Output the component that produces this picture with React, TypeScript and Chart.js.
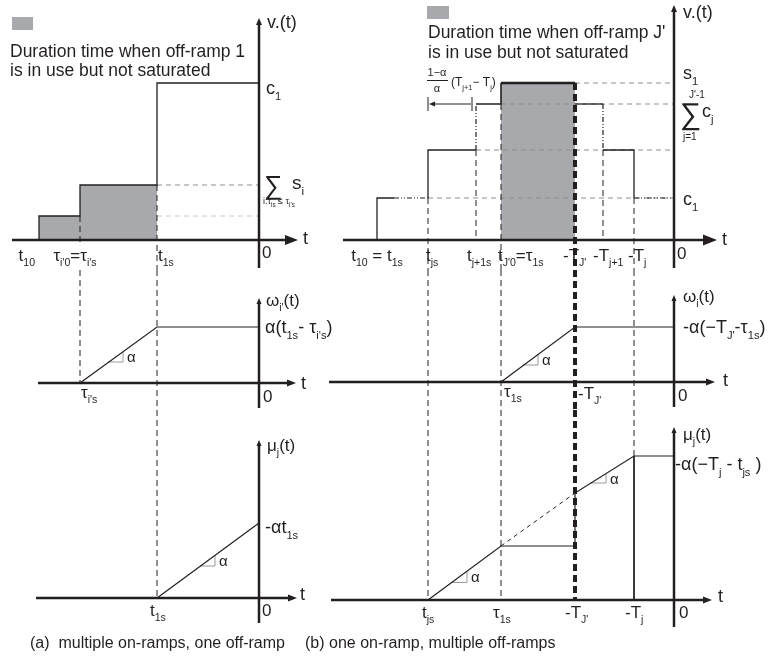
import React, { useEffect, useRef } from 'react';
import { Chart, registerables } from 'chart.js';
Chart.register(...registerables);

// ---------- values (time runs left to right, 0 at the origin) ----------
// (a) multiple on-ramps, one off-ramp
const A_TIMES = [-22.0, -17.9, -10.2]; // t10, τi's (= τi'0), t1s
const A_TOP_TICKS = ['t_{10}', "τ_{i'0}=τ_{i's}", 't_{1s}'];
const A_V_LEVELS = [2.4, 5.5, 15.7]; // first on-ramp, Σ s_i, c1
const A_OMEGA_LEVEL = 5.6; // α(t1s − τi's)
const A_MU_END = 7.5; // −α t1s
const A_SLOPE_MID = [-15.1, -13.6, 2.1, 3.1];
const A_SLOPE_BOT = [-5.9, -4.4, 3.2, 4.2];

// (b) one on-ramp, multiple off-ramps
const B_TIMES = [-29.7, -24.6, -19.8, -17.3, -9.9, -7.1, -4.0]; // t10=t1s, tjs, tj+1s, tJ'0=τ1s, −TJ', −Tj+1, −Tj
const B_TOP_TICKS = ['t_{10} = t_{1s}', 't_{js}', 't_{j+1s}', "t_{J'0}=τ_{1s}", "-T_{J'}", '-T_{j+1}', '-T_{j}'];
const B_DOTTED_FROM = -28.0;
const B_V_LEVELS = [4.2, 9.0, 13.6, 15.7]; // c1, intermediate, Σ_{j=1}^{J'-1} c_j, s1
const B_OMEGA_LEVEL = 5.5;
const B_MU_LEVELS = [5.4, 10.7, 14.4];
const B_BRACKET = [-24.6, -20.2];
const B_SLOPE_MID = [-15.1, -13.6, 1.7, 2.8];
const B_SLOPE_BOT1 = [-22.2, -20.7, 1.75, 2.9];
const B_SLOPE_BOT2 = [-8.4, -6.8, 11.7, 12.6];

const CAPTIONS = ['(a)  multiple on-ramps, one off-ramp', '(b) one on-ramp, multiple off-ramps'];
const LEGEND_A = ['Duration time when off-ramp 1', 'is in use but not saturated'];
const LEGEND_B = ["Duration time when off-ramp J'", 'is in use but not saturated'];

// ---------- styles ----------
const INK = '#231f20';
const GREY_FILL = '#a7a9ac';
const GUIDE = '#8f8f8f';
const GUIDE_LIGHT = '#c8c8c8';
const TRI = '#9a9a9a';
const DASH = [6, 4];
const DASH_DOT = [5, 2, 1, 2, 1, 2];
const THICK_DASH = [7, 4];
const FONT = '"Liberation Sans", Arial, Helvetica, sans-serif';

function line(pts: number[][], extra: any = {}) {
  return {
    data: pts.map(([x, y]) => ({ x, y })),
    showLine: true,
    pointRadius: 0,
    borderColor: INK,
    borderWidth: 1.2,
    fill: false,
    tension: 0,
    ...extra,
  };
}
function area(pts: number[][]) {
  return line(pts, { borderWidth: 0, borderColor: 'rgba(0,0,0,0)', backgroundColor: GREY_FILL, fill: 'origin' });
}
const dashed = (pts: number[][]) => line(pts, { borderDash: DASH, borderWidth: 1 });
const thick = (pts: number[][]) => line(pts, { borderDash: THICK_DASH, borderWidth: 4 });
const dotted = (pts: number[][]) => line(pts, { borderDash: DASH_DOT, borderWidth: 1.2 });
const guide = (pts: number[][], c = GUIDE) => line(pts, { borderDash: [5, 4], borderWidth: 1, borderColor: c });
const slope = (s: number[]) => line([[s[0], s[2]], [s[1], s[2]], [s[1], s[3]]], { borderColor: TRI, borderWidth: 1 });

function parseRich(s: string) {
  const out: { t: string; k: number }[] = [];
  let i = 0;
  let buf = '';
  while (i < s.length) {
    const c = s[i];
    if ((c === '_' || c === '^') && s[i + 1] === '{') {
      if (buf) { out.push({ t: buf, k: 0 }); buf = ''; }
      const j = s.indexOf('}', i + 2);
      out.push({ t: s.slice(i + 2, j), k: c === '_' ? 1 : 2 });
      i = j + 1;
    } else { buf += c; i++; }
  }
  if (buf) out.push({ t: buf, k: 0 });
  return out;
}
function rich(ctx: CanvasRenderingContext2D, s: string, x: number, y: number, size: number, align = 'left', subScale = 0.62) {
  const parts = parseRich(s);
  const fontOf = (k: number) => `${k ? size * subScale : size}px ${FONT}`;
  let w = 0;
  for (const p of parts) { ctx.font = fontOf(p.k); w += ctx.measureText(p.t).width; }
  let cx = align === 'left' ? x : align === 'center' ? x - w / 2 : x - w;
  ctx.textBaseline = 'alphabetic';
  ctx.textAlign = 'left';
  ctx.fillStyle = INK;
  for (const p of parts) {
    ctx.font = fontOf(p.k);
    const dy = p.k === 1 ? size * 0.32 : p.k === 2 ? -size * 0.42 : 0;
    ctx.fillText(p.t, cx, y + dy);
    cx += ctx.measureText(p.t).width;
  }
}
function arrow(ctx: CanvasRenderingContext2D, x0: number, y0: number, x1: number, y1: number, lw: number, hl: number, hw: number) {
  const a = Math.atan2(y1 - y0, x1 - x0);
  const c = Math.cos(a), s = Math.sin(a);
  ctx.save();
  ctx.setLineDash([]);
  ctx.strokeStyle = INK;
  ctx.fillStyle = INK;
  ctx.lineWidth = lw;
  ctx.beginPath();
  ctx.moveTo(x0, y0);
  ctx.lineTo(x1 - c * hl * 0.7, y1 - s * hl * 0.7);
  ctx.stroke();
  const bx = x1 - c * hl, by = y1 - s * hl;
  ctx.beginPath();
  ctx.moveTo(x1, y1);
  ctx.lineTo(bx - (s * hw) / 2, by + (c * hw) / 2);
  ctx.lineTo(bx + (s * hw) / 2, by - (c * hw) / 2);
  ctx.closePath();
  ctx.fill();
  ctx.restore();
}

type Fn = (v: number) => number;
type Panel = {
  left: number; top: number; width: number; height: number;
  padL: number; padR: number; xRange: number[]; yRange: number[];
  datasets: any[];
  draw: (ctx: CanvasRenderingContext2D, X: Fn, Y: Fn) => void;
};

const [a0, a1, a2] = A_TIMES;
const [al0, al1, al2] = A_V_LEVELS;
const [b0, b1, b2, b3, b4, b5, b6] = B_TIMES;
const [L0, L1, L2, L3] = B_V_LEVELS;
const [M0, M1, M2] = B_MU_LEVELS;

const A_FRAME = { left: 0, width: 350, padL: 9, padR: 51, xRange: [-25, 4] };
const B_FRAME = { left: 290, width: 487, padL: 34, padR: 53, xRange: [-35, 5] };

const PANELS: Panel[] = [
  // (a) top: v(t)
  {
    ...A_FRAME, top: 0, height: 270, yRange: [-3, 24],
    datasets: [
      line([[a0, 0], [a0, al0], [a1, al0], [a1, al1], [a2, al1], [a2, al2], [0, al2]], { borderWidth: 1.3 }),
      dashed([[a1, al0], [a1, -0.6]]),
      dashed([[a2, al1], [a2, -3]]),
      guide([[a2, al1], [0, al1]]),
      guide([[a2, al0], [0, al0]], GUIDE_LIGHT),
      area([[a0, al0], [a1, al0]]),
      area([[a1, al1], [a2, al1]]),
    ],
    draw(ctx, X, Y) {
      const X0 = X(0), Y0 = Y(0);
      arrow(ctx, X(-24.7), Y0, X(3.9), Y0, 2.5, 13, 10);
      arrow(ctx, X0, Y(-2.8), X0, Y(22.2), 2.5, 7, 6);
      rich(ctx, 'v.(t)', X0 + 8, Y(22.2) + 10, 18);
      rich(ctx, 't', X(3.9) + 5, Y0 + 4, 18);
      rich(ctx, '0', X0 + 3, Y0 + 18, 17);
      rich(ctx, A_TOP_TICKS[0], X(a0) - 4, Y0 + 21, 17, 'right');
      rich(ctx, A_TOP_TICKS[1], X(a1) - 5, Y0 + 21, 17, 'center');
      rich(ctx, A_TOP_TICKS[2], X(a2) + 1, Y0 + 21, 17);
      rich(ctx, 'c_{1}', X0 + 7, Y(al2) + 11, 18);
      rich(ctx, '∑', X0 + 5, Y(al1) + 9, 26);
      rich(ctx, 's_{i}', X0 + 33, Y(al1) + 4, 19);
      rich(ctx, "i:τ_{is} ≤ τ_{i's}", X0 + 4, Y(al1) + 19, 9, 'left', 0.7);
      ctx.fillStyle = GREY_FILL;
      ctx.fillRect(12, 17, 21, 13);
      rich(ctx, LEGEND_A[0], 10, 57, 17.5);
      rich(ctx, LEGEND_A[1], 10, 76, 17.5);
    },
  },
  // (a) middle: ω_i'(t)
  {
    ...A_FRAME, top: 270, height: 140, yRange: [-2.7, 11.3],
    datasets: [
      line([[a1, 0], [a2, A_OMEGA_LEVEL], [0, A_OMEGA_LEVEL]]),
      slope(A_SLOPE_MID),
      dashed([[a1, 11.3], [a1, 0]]),
      dashed([[a2, 11.3], [a2, -2.7]]),
    ],
    draw(ctx, X, Y) {
      const X0 = X(0), Y0 = Y(0);
      arrow(ctx, X(-22.1), Y0, X(3.7), Y0, 2.5, 9, 7);
      arrow(ctx, X0, Y(-2.5), X0, Y(8.5), 2.5, 6, 5);
      rich(ctx, "ω_{i'}(t)", X0 + 7, Y(8.5) + 8, 17);
      rich(ctx, "α(t_{1s}- τ_{i's})", X0 + 6, Y(A_OMEGA_LEVEL) + 6, 18);
      rich(ctx, "τ_{i's}", X(a1) + 1, Y0 + 15, 17);
      rich(ctx, '0', X0 + 4, Y0 + 19, 17);
      rich(ctx, 't', X(3.7) + 5, Y0 + 6, 18);
      rich(ctx, 'α', X(A_SLOPE_MID[1]) + 4, Y((A_SLOPE_MID[2] + A_SLOPE_MID[3]) / 2) + 5, 15);
    },
  },
  // (a) bottom: μ_j(t)
  {
    ...A_FRAME, top: 410, height: 248, yRange: [-6, 18.8],
    datasets: [
      line([[a2, 0], [0, A_MU_END]]),
      slope(A_SLOPE_BOT),
      dashed([[a2, 18.8], [a2, 0]]),
    ],
    draw(ctx, X, Y) {
      const X0 = X(0), Y0 = Y(0);
      arrow(ctx, X(-22.3), Y0, X(3.8), Y0, 2.5, 9, 7);
      arrow(ctx, X0, Y(-2.5), X0, Y(15.8), 2.5, 6, 5);
      rich(ctx, 'μ_{j}(t)', X0 + 8, Y(15.8) + 11, 17);
      rich(ctx, '-αt_{1s}', X0 + 6, Y(A_MU_END) + 10, 18);
      rich(ctx, 't_{1s}', X(a2) - 7, Y0 + 18, 17);
      rich(ctx, '0', X0 + 3, Y0 + 18, 17);
      rich(ctx, 't', X(3.8) + 3, Y0 + 2, 18);
      rich(ctx, 'α', X(A_SLOPE_BOT[1]) + 4, Y((A_SLOPE_BOT[2] + A_SLOPE_BOT[3]) / 2) + 5, 15);
      rich(ctx, CAPTIONS[0], 30, 648, 16);
    },
  },
  // (b) top: v(t)
  {
    ...B_FRAME, top: 0, height: 270, yRange: [-3, 24],
    datasets: [
      line([[b0, 0], [b0, L0], [B_DOTTED_FROM, L0]], { borderWidth: 1.3 }),
      dotted([[B_DOTTED_FROM, L0], [b1, L0]]),
      line([[b1, L0], [b1, L1], [b2, L1]], { borderWidth: 1.3 }),
      dotted([[b2, L1], [b2, L2]]),
      line([[b2, L2], [b3, L2], [b3, L3]], { borderWidth: 1.6 }),
      line([[b3, L3], [b4, L3]], { borderWidth: 2.5 }),
      line([[b4, L2], [b5, L2]], { borderWidth: 1.3 }),
      dotted([[b5, L2], [b5, L1]]),
      line([[b5, L1], [b6, L1], [b6, L0]], { borderWidth: 1.3 }),
      dotted([[b6, L0], [0, L0]]),
      thick([[b4, L3], [b4, -3]]),
      dashed([[b1, L0], [b1, -3]]),
      dashed([[b2, L1], [b2, 0]]),
      dashed([[b3, L2], [b3, -3]]),
      dashed([[b5, L1], [b5, 0]]),
      dashed([[b6, L0], [b6, -3]]),
      guide([[b4, L3], [0, L3]]),
      guide([[b3, L2], [0, L2]]),
      guide([[b2, L1], [0, L1]]),
      guide([[b1, L0], [0, L0]]),
      area([[b3, L3], [b4, L3]]),
    ],
    draw(ctx, X, Y) {
      const X0 = X(0), Y0 = Y(0);
      arrow(ctx, X(-33.1), Y0, X(4.3), Y0, 2.5, 14, 11);
      arrow(ctx, X0, Y(-2.8), X0, Y(23.5), 2.5, 7, 6);
      rich(ctx, 'v.(t)', X0 + 9, Y(23.5) + 13, 18);
      rich(ctx, 't', X(4.3) + 5, Y0 + 5, 18);
      rich(ctx, '0', X0 + 3, Y0 + 19, 17);
      const tY = Y0 + 21;
      rich(ctx, B_TOP_TICKS[0], X(b0), tY, 17, 'center');
      rich(ctx, B_TOP_TICKS[1], X(b1) - 2, tY, 17);
      rich(ctx, B_TOP_TICKS[2], X(b2) - 9, tY, 17);
      rich(ctx, B_TOP_TICKS[3], X(b3) - 3, tY, 17);
      rich(ctx, B_TOP_TICKS[4], X(b4) - 12, tY, 17);
      rich(ctx, B_TOP_TICKS[5], X(b5) - 10, tY, 17);
      rich(ctx, B_TOP_TICKS[6], X(b6) - 6, tY, 17);
      rich(ctx, 's_{1}', X0 + 9, Y(L3) - 4, 18);
      rich(ctx, "J'-1", X0 + 15, Y(L2) - 6, 10);
      rich(ctx, '∑', X0 + 6, Y(L2) + 20, 30);
      rich(ctx, 'c_{j}', X0 + 28, Y(L2) + 13, 18);
      rich(ctx, 'j=1', X0 + 9, Y(L2) + 36, 10);
      rich(ctx, 'c_{1}', X0 + 9, Y(L0) + 7, 18);
      ctx.fillStyle = GREY_FILL;
      ctx.fillRect(427, 6, 22, 13);
      rich(ctx, LEGEND_B[0], 428, 38, 17.5);
      rich(ctx, LEGEND_B[1], 428, 58, 17.5);
      // dimension annotation
      const fx = X(b1) + 9;
      rich(ctx, '1−α', fx, Y(L3) - 7, 11, 'center');
      ctx.fillStyle = INK;
      ctx.fillRect(fx - 10, Y(L3) - 3, 21, 1);
      rich(ctx, 'α', fx, Y(L3) + 9, 11, 'center');
      rich(ctx, '(T_{j+1}− T_{j})', fx + 14, Y(L3) + 3, 12);
      const by = Y(L2);
      const bl = X(B_BRACKET[0]), br = X(B_BRACKET[1]);
      ctx.strokeStyle = INK; ctx.lineWidth = 1; ctx.setLineDash([]);
      ctx.beginPath();
      ctx.moveTo(bl, by - 7); ctx.lineTo(bl, by + 7);
      ctx.moveTo(br, by - 7); ctx.lineTo(br, by + 7);
      ctx.stroke();
      arrow(ctx, br - 1, by, bl + 1, by, 1, 6, 5);
    },
  },
  // (b) middle: ω_i(t)
  {
    ...B_FRAME, top: 270, height: 140, yRange: [-2.8, 11.2],
    datasets: [
      line([[b3, 0], [b4, B_OMEGA_LEVEL], [0, B_OMEGA_LEVEL]]),
      slope(B_SLOPE_MID),
      thick([[b4, 11.2], [b4, -2.8]]),
      dashed([[b1, 11.2], [b1, -2.8]]),
      dashed([[b3, 11.2], [b3, -2.8]]),
      dashed([[b6, 11.2], [b6, -2.8]]),
    ],
    draw(ctx, X, Y) {
      const X0 = X(0), Y0 = Y(0);
      arrow(ctx, X(-34.5), Y0, X(4.1), Y0, 2.5, 9, 7);
      arrow(ctx, X0, Y(-2.5), X0, Y(8.7), 2.5, 6, 5);
      rich(ctx, 'ω_{i}(t)', X0 + 9, Y(8.7) + 7, 17);
      rich(ctx, "-α(−T_{J'}-τ_{1s})", X0 + 9, Y(B_OMEGA_LEVEL) + 6, 18);
      rich(ctx, 'τ_{1s}', X(b3) + 3, Y0 + 15, 17);
      rich(ctx, "-T_{J'}", X(b4) + 3, Y0 + 17, 17);
      rich(ctx, '0', X0 + 4, Y0 + 19, 17);
      rich(ctx, 't', X(4.1) + 8, Y0 + 4, 18);
      rich(ctx, 'α', X(B_SLOPE_MID[1]) + 4, Y((B_SLOPE_MID[2] + B_SLOPE_MID[3]) / 2) + 5, 15);
    },
  },
  // (b) bottom: μ_j(t)
  {
    ...B_FRAME, top: 410, height: 248, yRange: [-5.8, 19.0],
    datasets: [
      line([[b1, 0], [b3, M0], [b4, M0], [b4, M1], [b6, M2], [0, M2]]),
      line([[b3, M0], [b4, M1]], { borderDash: [4, 4], borderWidth: 1 }),
      slope(B_SLOPE_BOT1),
      slope(B_SLOPE_BOT2),
      thick([[b4, 19], [b4, 0]]),
      dashed([[b1, 19], [b1, 0]]),
      dashed([[b3, 19], [b3, 0]]),
      dashed([[b6, 19], [b6, M2]]),
      line([[b6, M2], [b6, 0]], { borderWidth: 1 }),
    ],
    draw(ctx, X, Y) {
      const X0 = X(0), Y0 = Y(0);
      arrow(ctx, X(-34.3), Y0, X(3.8), Y0, 2.5, 9, 7);
      arrow(ctx, X0, Y(-2.7), X0, Y(17.3), 2.5, 6, 5);
      rich(ctx, 'μ_{j}(t)', X0 + 9, Y(17.3) + 13, 17);
      rich(ctx, '-α(−T_{j} - t_{js} )', X0 + 1, Y(M2) + 14, 18);
      const tY = Y0 + 18;
      rich(ctx, 't_{js}', X(b1) - 6, tY, 17);
      rich(ctx, 'τ_{1s}', X(b3) - 8, tY, 17);
      rich(ctx, "-T_{J'}", X(b4) - 10, tY, 17);
      rich(ctx, '-T_{j}', X(b6) - 9, tY, 17);
      rich(ctx, '0', X0 + 5, tY, 17);
      rich(ctx, 't', X(3.8) + 6, Y0 + 2, 18);
      rich(ctx, 'α', X(B_SLOPE_BOT1[1]) + 4, Y((B_SLOPE_BOT1[2] + B_SLOPE_BOT1[3]) / 2) + 5, 15);
      rich(ctx, 'α', X(B_SLOPE_BOT2[1]) + 4, Y((B_SLOPE_BOT2[2] + B_SLOPE_BOT2[3]) / 2) + 5, 15);
      rich(ctx, CAPTIONS[1], 305, 648, 16);
    },
  },
];

function PanelCanvas({ panel }: { panel: Panel }) {
  const ref = useRef<HTMLCanvasElement>(null);
  useEffect(() => {
    const canvas = ref.current;
    if (!canvas) return;
    const chart = new Chart(canvas, {
      type: 'scatter',
      data: { datasets: panel.datasets },
      options: {
        animation: false,
        responsive: false,
        devicePixelRatio: 1,
        events: [],
        layout: { padding: { left: panel.padL, right: panel.padR, top: 0, bottom: 0 } },
        scales: {
          x: { type: 'linear', min: panel.xRange[0], max: panel.xRange[1], display: false },
          y: { type: 'linear', min: panel.yRange[0], max: panel.yRange[1], display: false },
        },
        plugins: { legend: { display: false }, tooltip: { enabled: false } },
      },
      plugins: [
        {
          id: 'figureDecor',
          afterDatasetsDraw(c: any) {
            const ctx = c.ctx as CanvasRenderingContext2D;
            const X = (v: number) => panel.left + c.scales.x.getPixelForValue(v);
            const Y = (v: number) => panel.top + c.scales.y.getPixelForValue(v);
            ctx.save();
            ctx.translate(-panel.left, -panel.top);
            panel.draw(ctx, X, Y);
            ctx.restore();
          },
        },
      ],
    } as any);
    return () => chart.destroy();
  }, [panel]);
  return (
    <canvas
      ref={ref}
      width={panel.width}
      height={panel.height}
      style={{ position: 'absolute', left: panel.left, top: panel.top, width: panel.width, height: panel.height }}
    />
  );
}

export default function App() {
  return (
    <div style={{ position: 'absolute', left: 0, top: 0, width: 777, height: 658, background: '#fff', overflow: 'hidden' }}>
      {PANELS.map((p, i) => (
        <PanelCanvas key={i} panel={p} />
      ))}
    </div>
  );
}
